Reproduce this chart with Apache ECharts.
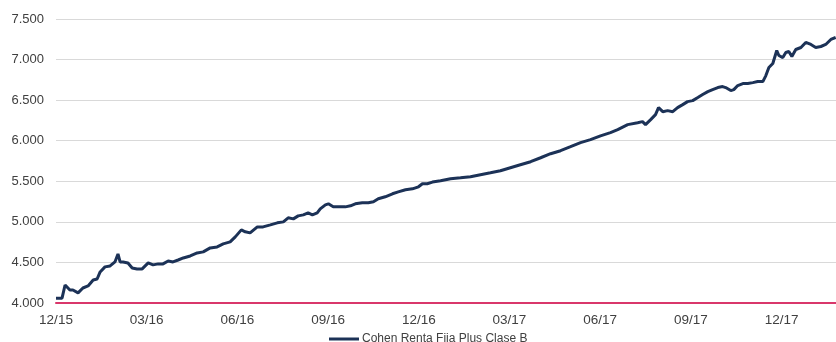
<!DOCTYPE html>
<html>
<head>
<meta charset="utf-8">
<script src="https://cdn.jsdelivr.net/npm/echarts@6/dist/echarts.min.js"></script>
<style>
    html, body { margin: 0; padding: 0; background: #fff; }
    #chart { width: 836px; height: 342px; }
</style>
</head>
<body>
<div id="chart"></div>
<script>
    // meses transcurridos desde 12/2015
    const months = [
        0, 0.2, 0.3, 0.46, 0.56, 0.73, 0.89, 1.06, 1.23, 1.36, 1.46, 1.62, 1.79, 1.95, 2.05, 2.12, 2.22, 2.38,
        2.52, 2.68, 2.85, 3.05, 3.21, 3.38, 3.54, 3.71, 3.87, 4.04, 4.21, 4.44, 4.67, 4.87, 5.1, 5.33, 5.53,
        5.76, 5.93, 6.13, 6.26, 6.42, 6.66, 6.85, 7.09, 7.32, 7.52, 7.68, 7.85, 8.01, 8.18, 8.34, 8.48, 8.64,
        8.74, 8.91, 9.01, 9.17, 9.4, 9.57, 9.74, 9.9, 10.13, 10.33, 10.5, 10.66, 10.89, 11.13, 11.32, 11.56,
        11.79, 11.99, 12.12, 12.28, 12.45, 12.72, 13.05, 13.38, 13.71, 14.04, 14.37, 14.7, 15.03, 15.36, 15.7,
        16.03, 16.36, 16.69, 17.02, 17.35, 17.68, 18.01, 18.34, 18.58, 18.91, 19.24, 19.4, 19.5, 19.67, 19.83,
        19.93, 20.07, 20.23, 20.4, 20.56, 20.73, 20.89, 21.06, 21.23, 21.39, 21.56, 21.72, 21.89, 22.05, 22.15,
        22.32, 22.42, 22.55, 22.72, 22.88, 23.05, 23.21, 23.38, 23.48, 23.58, 23.71, 23.84, 23.91, 24.04, 24.14,
        24.24, 24.34, 24.47, 24.64, 24.8, 24.97, 25.13, 25.3, 25.46, 25.63, 25.79
    ];
    const fundValues = [
        4060, 4060, 4222, 4160, 4160, 4125, 4185, 4210, 4284, 4296, 4383, 4445, 4457, 4506, 4605, 4506, 4506, 4494,
        4432, 4420, 4420, 4494, 4470, 4482, 4482, 4518, 4506, 4530, 4555, 4580, 4617, 4630, 4679, 4691, 4728,
        4753, 4815, 4901, 4877, 4864, 4938, 4938, 4963, 4988, 5000, 5050, 5037, 5074, 5086, 5111, 5086, 5111,
        5160, 5210, 5222, 5185, 5185, 5185, 5198, 5222, 5235, 5235, 5247, 5284, 5309, 5346, 5370, 5395,
        5407, 5432, 5470, 5470, 5490, 5506, 5531, 5543, 5556, 5581, 5605, 5630, 5667, 5704, 5741,
        5790, 5840, 5877, 5926, 5976, 6013, 6060, 6100, 6136, 6198, 6222, 6235, 6198, 6260, 6321,
        6408, 6358, 6371, 6358, 6408, 6445, 6482, 6494, 6532, 6569, 6605, 6630, 6655, 6667, 6655,
        6618, 6630, 6680, 6704, 6704, 6716, 6729, 6729, 6803, 6902, 6951, 7112, 7050, 7025, 7087,
        7099, 7038, 7124, 7149, 7211, 7186, 7149, 7161, 7186, 7248, 7273
    ];
    const xTickLabels = ['12/15', '03/16', '06/16', '09/16', '12/16', '03/17', '06/17', '09/17', '12/17'];
    const seriesName = 'Cohen Renta Fija Plus Clase B';

    const chart = echarts.init(document.getElementById('chart'));
    chart.setOption({
        animation: false,
        textStyle: {fontFamily: 'Liberation Sans, Arial, sans-serif'},
        grid: {
            top: 19,
            left: 56,
            right: 0,
            bottom: 39
        },
        legend: {
            data: [{name: seriesName, icon: 'rect'}],
            left: 324,
            top: 328,
            itemWidth: 30,
            itemHeight: 3,
            itemGap: 4,
            textStyle: {fontSize: 12, color: '#404040', padding: [0, 0, 0, -2]}
        },
        xAxis: {
            type: 'value',
            min: 0,
            max: 25.8,
            interval: 3,
            axisLabel: {
                showMaxLabel: false,
                color: '#404040',
                fontSize: 13.5,
                margin: 10,
                formatter: function (v) {
                    return xTickLabels[Math.round(v / 3)] || '';
                }
            },
            axisTick: {show: false},
            splitLine: {show: false},
            axisLine: {
                show: true,
                lineStyle: {color: '#d9376b', width: 2}
            }
        },
        yAxis: {
            type: 'value',
            min: 4000,
            max: 7500,
            interval: 500,
            axisLabel: {
                color: '#404040',
                fontSize: 13,
                margin: 12,
                formatter: function (v) {
                    return String(v).replace(/\B(?=(\d{3})+(?!\d))/g, '.');
                }
            },
            axisTick: {show: false},
            axisLine: {show: false},
            splitLine: {
                lineStyle: {color: '#d9d9d9', width: 1}
            }
        },
        series: [{
            name: seriesName,
            type: 'line',
            data: months.map((m, i) => [m, fundValues[i]]),
            showSymbol: false,
            color: '#1c3257',
            lineStyle: {width: 3, color: '#1c3257'}
        }]
    });
</script>
</body>
</html>
